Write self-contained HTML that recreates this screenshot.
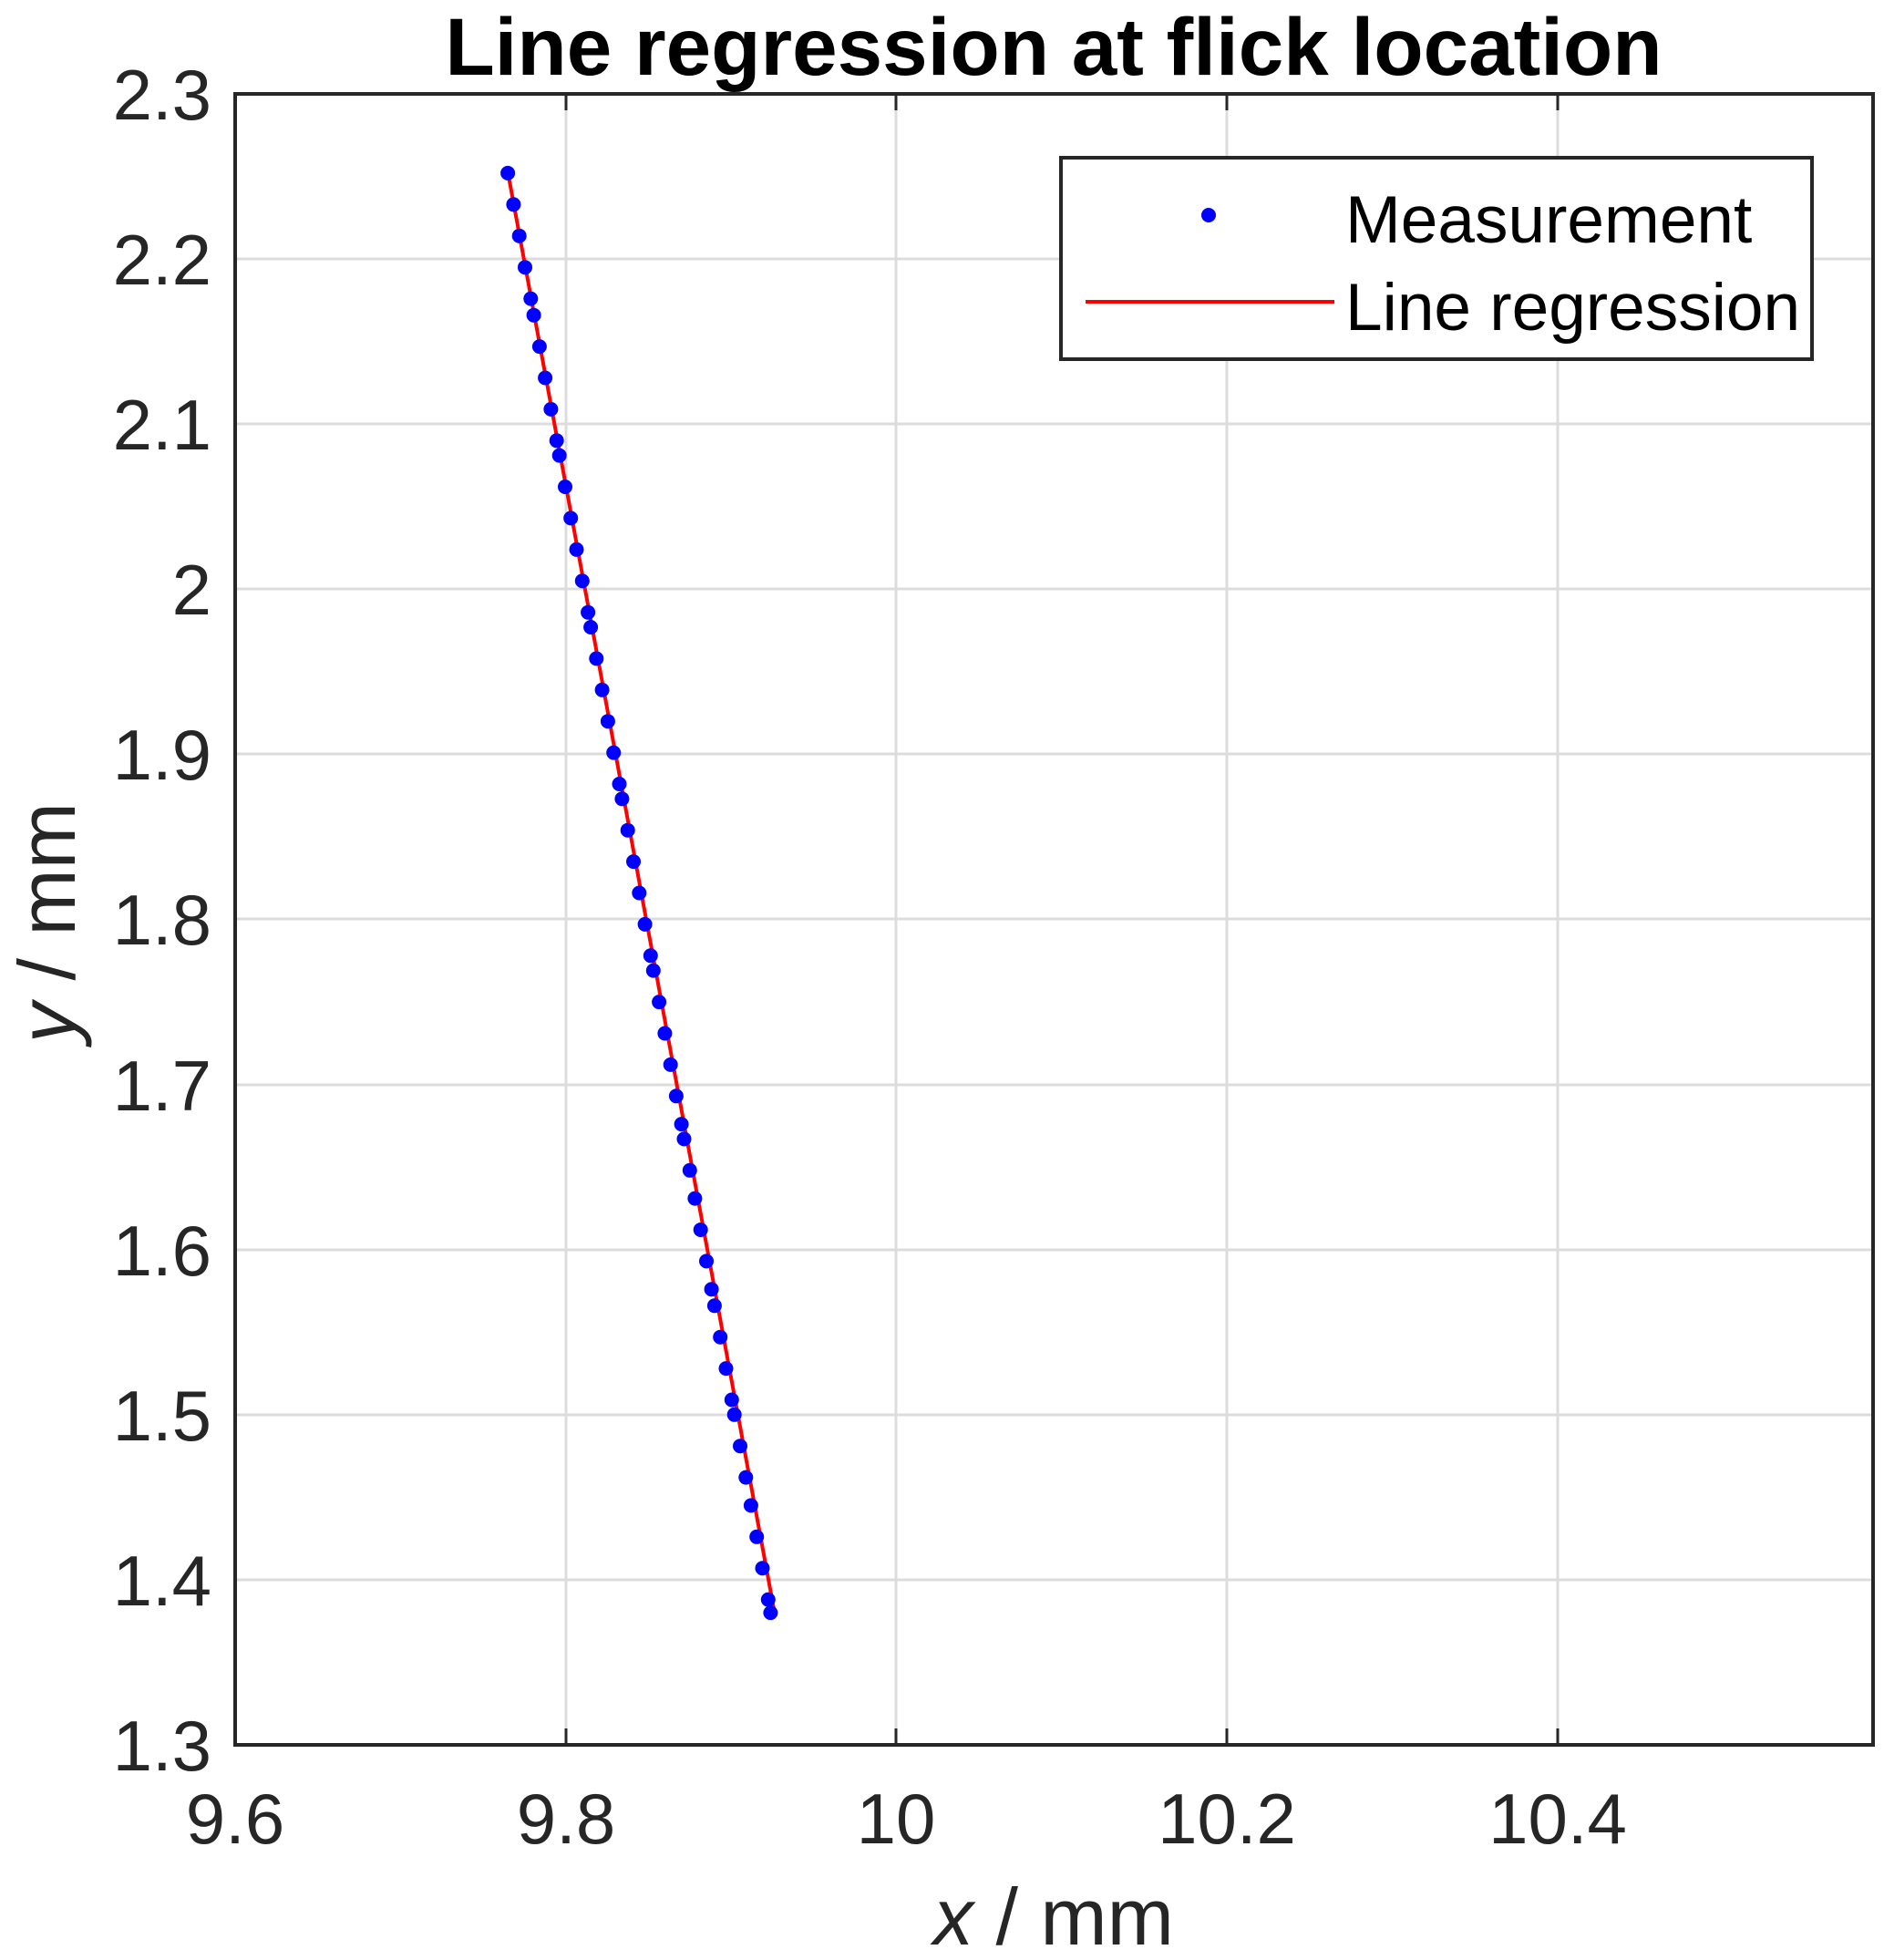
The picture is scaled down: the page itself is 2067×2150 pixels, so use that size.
<!DOCTYPE html>
<html><head><meta charset="utf-8"><style>html,body{margin:0;padding:0;background:#fff}</style></head>
<body>
<svg id="s" width="2067" height="2145" viewBox="0 0 2067 2145" xmlns="http://www.w3.org/2000/svg" font-family="Liberation Sans, Arial, sans-serif">
<rect width="2067" height="2145" fill="#fff"/>
<g stroke="#dcdcdc" stroke-width="3">
<line x1="621" y1="103" x2="621" y2="1914"/><line x1="983" y1="103" x2="983" y2="1914"/>
<line x1="1346" y1="103" x2="1346" y2="1914"/><line x1="1709" y1="103" x2="1709" y2="1914"/>
<line x1="258" y1="284" x2="2055" y2="284"/><line x1="258" y1="465" x2="2055" y2="465"/>
<line x1="258" y1="646" x2="2055" y2="646"/><line x1="258" y1="827" x2="2055" y2="827"/>
<line x1="258" y1="1008" x2="2055" y2="1008"/><line x1="258" y1="1190" x2="2055" y2="1190"/>
<line x1="258" y1="1371" x2="2055" y2="1371"/><line x1="258" y1="1552" x2="2055" y2="1552"/>
<line x1="258" y1="1733" x2="2055" y2="1733"/>
</g>
<g stroke="#262626" stroke-width="3">
<line x1="621" y1="1914" x2="621" y2="1896"/><line x1="983" y1="1914" x2="983" y2="1896"/>
<line x1="1346" y1="1914" x2="1346" y2="1896"/><line x1="1709" y1="1914" x2="1709" y2="1896"/>
<line x1="621" y1="103" x2="621" y2="121"/><line x1="983" y1="103" x2="983" y2="121"/>
<line x1="1346" y1="103" x2="1346" y2="121"/><line x1="1709" y1="103" x2="1709" y2="121"/>
</g>
<line x1="557" y1="188" x2="850" y2="1770" stroke="#f00" stroke-width="4"/>
<g id="pts" fill="#00f"></g>
<rect x="258" y="103" width="1797" height="1811" fill="none" stroke="#262626" stroke-width="4"/>
<rect x="1164" y="173" width="824" height="221" fill="#fff" stroke="#262626" stroke-width="4"/>
<circle cx="1326" cy="236" r="8" fill="#00f"/>
<line x1="1191" y1="331" x2="1464" y2="331" stroke="#f00" stroke-width="4"/>
<g font-size="73" fill="#000">
<text x="1476" y="266">Measurement</text>
<text x="1476" y="362">Line regression</text>
</g>
<g font-size="78" fill="#262626" text-anchor="end">
<text x="232" y="131">2.3</text><text x="232" y="312">2.2</text><text x="232" y="493">2.1</text>
<text x="232" y="674">2</text><text x="232" y="855">1.9</text><text x="232" y="1036">1.8</text>
<text x="232" y="1218">1.7</text><text x="232" y="1399">1.6</text><text x="232" y="1580">1.5</text>
<text x="232" y="1761">1.4</text><text x="232" y="1942">1.3</text>
</g>
<g font-size="78" fill="#262626" text-anchor="middle">
<text x="258" y="2022">9.6</text><text x="621" y="2022">9.8</text><text x="983" y="2022">10</text>
<text x="1346" y="2022">10.2</text><text x="1709" y="2022">10.4</text>
</g>
<text x="1156" y="2133" font-size="88" fill="#262626" text-anchor="middle"><tspan font-style="italic">x</tspan> / mm</text>
<text transform="translate(82,1012) rotate(-90)" font-size="88" fill="#262626" text-anchor="middle"><tspan font-style="italic">y</tspan> / mm</text>
<text x="1156" y="82" font-size="89" font-weight="bold" fill="#000" text-anchor="middle">Line regression at flick location</text>
</svg>
<script>
var ys=[2.252,2.233,2.214,2.195,2.176,2.166,2.147,2.128,2.109,2.090,2.081,2.062,2.043,2.024,2.005,1.986,1.977,1.958,1.939,1.920,1.901,1.882,1.873,1.854,1.835,1.816,1.797,1.778,1.769,1.750,1.731,1.712,1.693,1.676,1.667,1.648,1.631,1.612,1.593,1.576,1.566,1.547,1.528,1.509,1.500,1.481,1.462,1.445,1.426,1.407,1.388,1.380];
var g=document.getElementById('pts'),h='';
ys.forEach(function(y){var x=9.765+(2.252-y)/0.872*0.159;var px=258+(x-9.6)*1813,py=1914-(y-1.3)*1811;
h+='<circle cx="'+px.toFixed(1)+'" cy="'+py.toFixed(1)+'" r="8"/>';});
g.innerHTML=h;
</script>
</body></html>
